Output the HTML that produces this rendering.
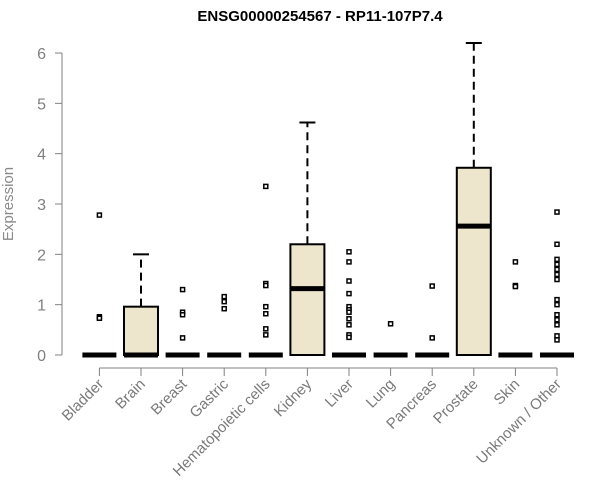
<!DOCTYPE html>
<html><head><meta charset="utf-8"><style>
html,body{margin:0;padding:0;background:#fff;}
svg{display:block;font-family:"Liberation Sans",Arial,sans-serif;}
</style></head><body>
<svg id="chart" width="600" height="500">
<text x="320" y="21" text-anchor="middle" font-weight="bold" font-size="15" fill="#000">ENSG00000254567 - RP11-107P7.4</text>
<text transform="translate(13,204) rotate(-90)" text-anchor="middle" font-size="15" fill="#8a8a8a">Expression</text>
<g id="yaxis"></g>
<g id="xaxis"></g>
<g id="boxes"></g>
</svg>
<script>
const categories=["Bladder","Brain","Breast","Gastric","Hematopoietic cells","Kidney","Liver","Lung","Pancreas","Prostate","Skin","Unknown / Other"];
const q1=[0,0,0,0,0,0,0,0,0,0,0,0];
const medians=[0,0,0,0,0,1.32,0,0,0,2.56,0,0];
const q3=[0,0.96,0,0,0,2.2,0,0,0,3.72,0,0];
const whiskerHigh=[0,2.0,0,0,0,4.62,0,0,0,6.2,0,0];
const outliers=[[2.78,0.76,0.73],[],[1.3,0.85,0.8,0.34],[1.16,1.06,0.92],[3.35,1.42,1.38,0.96,0.82,0.52,0.4],[],[2.05,1.85,1.47,1.22,0.96,0.9,0.85,0.72,0.6,0.4,0.35],[0.62],[1.37,0.34],[],[1.85,1.38,1.36],[2.84,2.2,1.9,1.8,1.7,1.6,1.5,1.1,1.0,0.8,0.7,0.6,0.38,0.3]];
const yTicks=[0,1,2,3,4,5,6];
const NS="http://www.w3.org/2000/svg";
const y=v=>355-v*50.33;
const x=i=>99.4+i*41.6;
function mk(t,a,p){const e=document.createElementNS(NS,t);for(const k in a)e.setAttribute(k,a[k]);p.appendChild(e);return e;}
const ya=document.getElementById('yaxis');
const yl=mk('line',{x1:62,x2:62,y1:y(6),y2:y(0),stroke:'#808080'},ya);


yTicks.forEach(t=>{
 const l=mk('line',{x1:55,x2:62,y1:y(t),y2:y(t),stroke:'#808080'},ya);
 
 
 const tx=mk('text',{x:46,y:y(t)+6,'text-anchor':'end','font-size':16,fill:'#808080'},ya);
 tx.textContent=t;
 
 
});
const xa=document.getElementById('xaxis');
const xl=mk('line',{x1:x(0),x2:x(categories.length-1),y1:368,y2:368,stroke:'#808080'},xa);


const bx=document.getElementById('boxes');
categories.forEach((c,i)=>{
 const cx=x(i);
 const tk=mk('line',{x1:cx,x2:cx,y1:368,y2:376,stroke:'#808080'},xa);
 
 
 const lb=mk('text',{x:cx+5,y:385,'text-anchor':'end','font-size':15,fill:'#7a7a7a',transform:`rotate(-45 ${cx+5} 385)`},xa);
 lb.textContent=c;
 
 
 const g=mk('g',{},bx);
 
 
 if(whiskerHigh[i]>q3[i]){
  mk('line',{x1:cx,x2:cx,y1:y(q3[i]),y2:y(whiskerHigh[i]),stroke:'#000','stroke-width':2,'stroke-dasharray':'8,5'},g);
  mk('line',{x1:cx-8,x2:cx+8,y1:y(whiskerHigh[i]),y2:y(whiskerHigh[i]),stroke:'#000','stroke-width':2},g);
 }
 if(q3[i]>q1[i]){
  mk('rect',{x:cx-17,y:y(q3[i]),width:34,height:y(q1[i])-y(q3[i]),fill:'#ede6cc',stroke:'#000','stroke-width':2},g);
 }
 mk('line',{x1:cx-17,x2:cx+17,y1:y(medians[i]),y2:y(medians[i]),stroke:'#000','stroke-width':5},g);
 outliers[i].forEach(v=>{
  const p=mk('rect',{x:cx-2,y:y(v)-2,width:4,height:4,fill:'#fff',stroke:'#000','stroke-width':1.5},g);
  
  
 });
});
</script>
</body></html>
